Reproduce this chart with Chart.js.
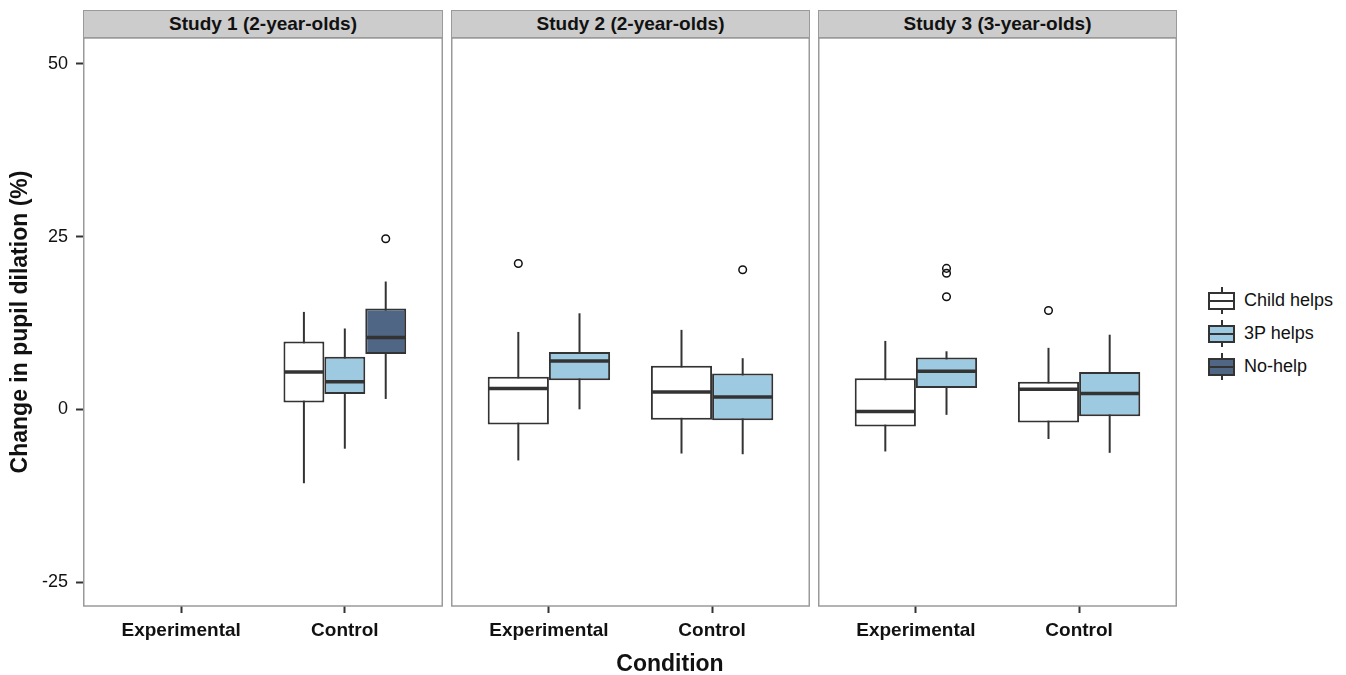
<!DOCTYPE html>
<html>
<head>
<meta charset="utf-8">
<script src="https://cdn.jsdelivr.net/npm/chart.js@4"></script>
<style>
  body { margin: 0; background: #fff; font-family: "Liberation Sans", Arial, sans-serif; }
  #wrap { position: relative; width: 1346px; height: 675px; overflow: hidden; }
  canvas { position: absolute; top: 38px; }
  .strip { position: absolute; top: 10px; height: 28px; box-sizing: border-box; background: #cccccc;
           border: 1px solid #9a9a9a; font-weight: bold; font-size: 19px; line-height: 26px; text-align: center; color: #111; }
  #xtitle { position: absolute; left: 0; width: 1340px; top: 649px; text-align: center; font-weight: bold; font-size: 23px; line-height: 28px; color: #111; }
  #legend { position: absolute; left: 1208px; top: 284px; }
  .row { display: flex; align-items: center; height: 33px; }
  .key { position: relative; width: 27px; height: 33px; }
  .key .wh { position: absolute; left: 12.5px; width: 2px; top: 3px; bottom: 3px; background: #333; }
  .key .bx { position: absolute; left: 0; right: 0; top: 8px; bottom: 7px; box-sizing: border-box; border: 2px solid #333; }
  .key .md { position: absolute; left: 0; right: 0; top: 16px; height: 2px; background: #333; }
  .row span { margin-left: 9px; font-size: 18px; color: #111; }
</style>
</head>
<body>
<div id="wrap">
  <div class="strip" style="left:83px;width:360px">Study 1 (2-year-olds)</div>
  <div class="strip" style="left:451px;width:359px">Study 2 (2-year-olds)</div>
  <div class="strip" style="left:818px;width:359px">Study 3 (3-year-olds)</div>
  <canvas id="study1" width="443" height="637" style="left:0"></canvas>
  <canvas id="study2" width="359" height="637" style="left:451px"></canvas>
  <canvas id="study3" width="359" height="637" style="left:818px"></canvas>
  <div id="xtitle">Condition</div>
  <div id="legend"></div>
</div>
<script>
const conditions = ['Experimental', 'Control'];
const groups = ['Child helps', '3P helps', 'No-help'];
const groupColors = ['#ffffff', '#9ecae1', '#4f6685'];
const yTicks = [-25, 0, 25, 50];

// [min, q1, median, q3, max] for each condition, null = no data
const study1Child = [null, [-10.7, 1.0, 5.4, 9.8, 14.1]];
const study1ThirdParty = [null, [-5.7, 2.2, 4.0, 7.6, 11.7]];
const study1NoHelp = [null, [1.5, 8.0, 10.4, 14.6, 18.5]];
const study2Child = [[-7.4, -2.2, 3.0, 4.7, 11.2], [-6.4, -1.5, 2.5, 6.3, 11.5]];
const study2ThirdParty = [[0.0, 4.2, 7.0, 8.3, 13.9], [-6.5, -1.6, 1.8, 5.2, 7.4]];
const study3Child = [[-6.1, -2.5, -0.3, 4.5, 9.9], [-4.3, -1.9, 2.9, 4.0, 8.9]];
const study3ThirdParty = [[-0.8, 3.1, 5.5, 7.5, 8.4], [-6.3, -1.0, 2.3, 5.4, 10.8]];

// outliers for each condition
const study1NoHelpOut = [[], [24.7]];
const study2ChildOut = [[21.1], []];
const study2ThirdPartyOut = [[], [20.2]];
const study3ChildOut = [[], [14.3]];
const study3ThirdPartyOut = [[20.4, 19.7, 16.3], []];

const font = '"Liberation Sans", Arial, sans-serif';

function boxDataset(g, stats, outliers) {
    return {
        label: groups[g],
        backgroundColor: groupColors[g],
        borderColor: '#333333',
        borderWidth: 2,
        borderSkipped: false,
        categoryPercentage: 0.75,
        barPercentage: 1,
        data: stats.map((s, i) => s && { x: i + 1, y: [s[1], s[3]], stats: s, out: outliers ? outliers[i] : [] })
                   .filter(Boolean)
    };
}

// whiskers under the boxes, medians and outliers on top, then panel border
const boxParts = {
    id: 'boxParts',
    beforeDatasetsDraw(chart) {
        const ctx = chart.ctx, y = chart.scales.y;
        ctx.save();
        ctx.strokeStyle = '#333333';
        ctx.lineWidth = 2;
        chart.data.datasets.forEach((ds, d) => {
            chart.getDatasetMeta(d).data.forEach((bar, j) => {
                const s = ds.data[j].stats;
                ctx.beginPath();
                ctx.moveTo(bar.x, y.getPixelForValue(s[0]));
                ctx.lineTo(bar.x, y.getPixelForValue(s[4]));
                ctx.stroke();
            });
        });
        ctx.restore();
    },
    afterDatasetsDraw(chart) {
        const ctx = chart.ctx, y = chart.scales.y;
        ctx.save();
        chart.data.datasets.forEach((ds, d) => {
            chart.getDatasetMeta(d).data.forEach((bar, j) => {
                const p = ds.data[j];
                const half = bar.width / 2;
                ctx.strokeStyle = '#333333';
                ctx.lineWidth = 3.5;
                ctx.beginPath();
                const my = y.getPixelForValue(p.stats[2]);
                ctx.moveTo(bar.x - half + 1, my);
                ctx.lineTo(bar.x + half - 1, my);
                ctx.stroke();
                ctx.lineWidth = 1.5;
                ctx.strokeStyle = '#111';
                p.out.forEach(v => {
                    ctx.beginPath();
                    ctx.arc(bar.x, y.getPixelForValue(v), 3.8, 0, Math.PI * 2);
                    ctx.stroke();
                });
            });
        });
        ctx.restore();
    },
    afterDraw(chart) {
        const a = chart.chartArea, ctx = chart.ctx;
        ctx.save();
        ctx.strokeStyle = '#9a9a9a';
        ctx.lineWidth = 1.5;
        ctx.strokeRect(a.left + 0.75, a.top, a.right - a.left - 1.5, a.bottom - a.top);
        ctx.restore();
    }
};

function makePanel(id, datasets, showY) {
    new Chart(document.getElementById(id), {
        type: 'bar',
        data: { datasets },
        options: {
            responsive: false,
            animation: false,
            layout: { padding: 0 },
            plugins: { legend: { display: false }, tooltip: { enabled: false } },
            scales: {
                x: {
                    type: 'linear', min: 0.4, max: 2.6, offset: false,
                    afterBuildTicks: ax => { ax.ticks = conditions.map((c, i) => ({ value: i + 1 })); },
                    afterFit: ax => {
                        ax.height = 69;
                        ax.paddingLeft = 0; ax.paddingRight = 0; ax.paddingTop = 0; ax.paddingBottom = 0;
                    },
                    ticks: {
                        callback: v => conditions[v - 1],
                        font: { family: font, size: 19, weight: 'bold' },
                        color: '#111', padding: 6, autoSkip: false, maxRotation: 0
                    },
                    grid: { offset: false, drawOnChartArea: false, tickLength: 7, tickColor: '#333', tickWidth: 2 },
                    border: { display: false }
                },
                y: {
                    display: showY,
                    min: -28.47, max: 53.75,
                    afterBuildTicks: ax => { ax.ticks = yTicks.map(v => ({ value: v })); },
                    afterFit: ax => {
                        ax.width = showY ? 83 : 0;
                        ax.paddingLeft = 0; ax.paddingRight = 0; ax.paddingTop = 0; ax.paddingBottom = 0;
                    },
                    title: {
                        display: true, text: 'Change in pupil dilation (%)', color: '#111',
                        font: { family: font, size: 23, weight: 'bold' }, padding: { top: 7, bottom: 0 }
                    },
                    ticks: { font: { family: font, size: 18 }, color: '#111', padding: 8 },
                    grid: { drawOnChartArea: false, tickLength: 7, tickColor: '#333', tickWidth: 2 },
                    border: { display: false }
                }
            }
        },
        plugins: [boxParts]
    });
}

makePanel('study1', [
    boxDataset(0, study1Child),
    boxDataset(1, study1ThirdParty),
    boxDataset(2, study1NoHelp, study1NoHelpOut)
], true);
makePanel('study2', [
    boxDataset(0, study2Child, study2ChildOut),
    boxDataset(1, study2ThirdParty, study2ThirdPartyOut)
], false);
makePanel('study3', [
    boxDataset(0, study3Child, study3ChildOut),
    boxDataset(1, study3ThirdParty, study3ThirdPartyOut)
], false);

// legend
const legend = document.getElementById('legend');
groups.forEach((g, i) => {
    const row = document.createElement('div');
    row.className = 'row';
    row.innerHTML = '<div class="key"><div class="wh"></div><div class="bx" style="background:' + groupColors[i] +
        '"></div><div class="md"></div></div><span>' + g + '</span>';
    legend.appendChild(row);
});
</script>
</body>
</html>
